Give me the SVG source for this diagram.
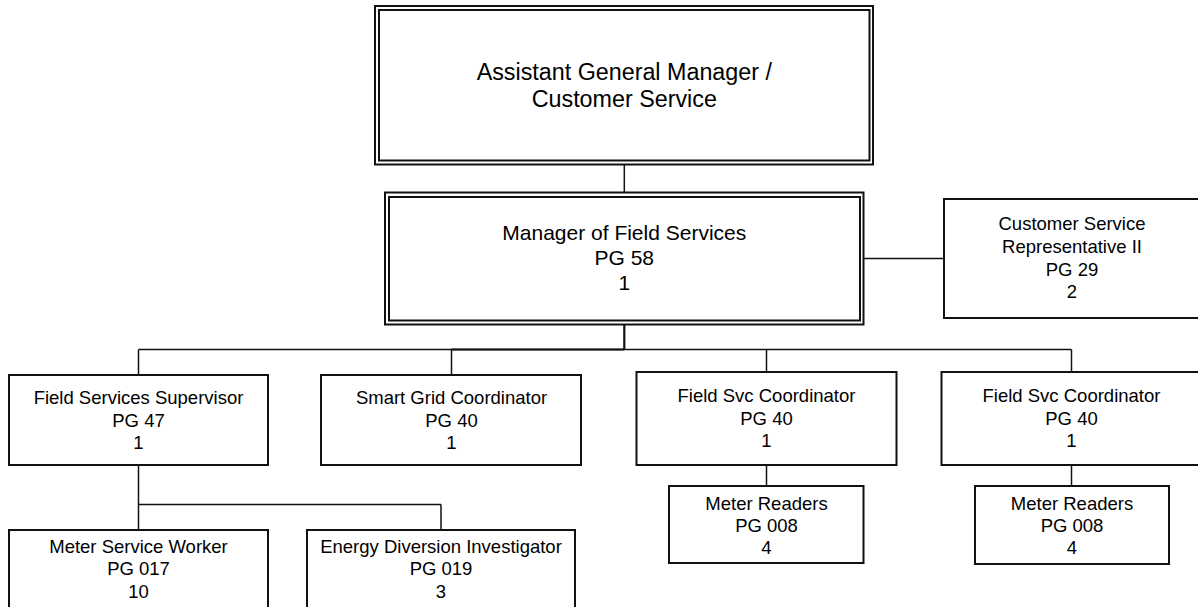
<svg xmlns="http://www.w3.org/2000/svg" width="1198" height="607" viewBox="0 0 1198 607">
  <style>
    .box { fill: #ffffff; stroke: #111111; stroke-width: 2; }
    .wire { fill: none; stroke: #111111; stroke-width: 1.5; }
    .wire-heavy { fill: none; stroke: #111111; stroke-width: 2.2; }
    text { font-family: "Liberation Sans", Arial, sans-serif; fill: #000000; text-anchor: middle; }
    .t-lg { font-size: 23.3px; }
    .t-md { font-size: 21px; }
    .t-sm { font-size: 18.5px; }
  </style>

  <!-- reporting lines -->
  <g id="connectors">
    <line class="wire" x1="624.3" y1="165" x2="624.3" y2="192"/>
    <line class="wire" x1="864" y1="258.5" x2="944" y2="258.5"/>
    <line class="wire-heavy" x1="624.3" y1="325" x2="624.3" y2="349.5"/>
    <line class="wire" x1="138.5" y1="349.5" x2="1071.5" y2="349.5"/>
    <line class="wire-heavy" x1="451.5" y1="349.5" x2="624.3" y2="349.5"/>
    <line class="wire" x1="138.5" y1="349.5" x2="138.5" y2="375"/>
    <line class="wire" x1="451.5" y1="349.5" x2="451.5" y2="375"/>
    <line class="wire" x1="766.5" y1="349.5" x2="766.5" y2="372"/>
    <line class="wire" x1="1071.5" y1="349.5" x2="1071.5" y2="372"/>
    <line class="wire" x1="138.5" y1="465" x2="138.5" y2="530"/>
    <line class="wire" x1="138.5" y1="504.5" x2="441" y2="504.5"/>
    <line class="wire" x1="441" y1="504.5" x2="441" y2="530"/>
    <line class="wire" x1="766.5" y1="465" x2="766.5" y2="486"/>
    <line class="wire" x1="1071.5" y1="465" x2="1071.5" y2="486"/>
  </g>

  <g id="agm">
    <rect class="box" x="375" y="6" width="498" height="158.5"/>
    <rect class="box" x="379" y="10" width="490.5" height="150.5"/>
    <text class="t-lg" x="624.3" y="79.5">Assistant General Manager /</text>
    <text class="t-lg" x="624.3" y="107">Customer Service</text>
  </g>

  <g id="manager-field-services">
    <rect class="box" x="385" y="192.5" width="478.5" height="132"/>
    <rect class="box" x="389" y="197" width="471" height="123.5"/>
    <text class="t-md" x="624.3" y="240">Manager of Field Services</text>
    <text class="t-md" x="624.3" y="265">PG 58</text>
    <text class="t-md" x="624.3" y="290">1</text>
  </g>

  <g id="csr-ii">
    <rect class="box" x="944" y="199" width="260" height="119"/>
    <text class="t-sm" x="1072" y="230">Customer Service</text>
    <text class="t-sm" x="1072" y="253">Representative II</text>
    <text class="t-sm" x="1072" y="276">PG 29</text>
    <text class="t-sm" x="1072" y="298">2</text>
  </g>

  <g id="field-services-supervisor">
    <rect class="box" x="9" y="375" width="259" height="90"/>
    <text class="t-sm" x="138.5" y="404">Field Services Supervisor</text>
    <text class="t-sm" x="138.5" y="426.5">PG 47</text>
    <text class="t-sm" x="138.5" y="448.5">1</text>
  </g>

  <g id="smart-grid-coordinator">
    <rect class="box" x="321" y="375" width="260" height="90"/>
    <text class="t-sm" x="451.5" y="404">Smart Grid Coordinator</text>
    <text class="t-sm" x="451.5" y="426.5">PG 40</text>
    <text class="t-sm" x="451.5" y="448.5">1</text>
  </g>

  <g id="field-svc-coordinator-a">
    <rect class="box" x="636.5" y="372" width="260" height="93"/>
    <text class="t-sm" x="766.5" y="402">Field Svc Coordinator</text>
    <text class="t-sm" x="766.5" y="424.5">PG 40</text>
    <text class="t-sm" x="766.5" y="446.5">1</text>
  </g>

  <g id="field-svc-coordinator-b">
    <rect class="box" x="941.5" y="372" width="262" height="93"/>
    <text class="t-sm" x="1071.5" y="402">Field Svc Coordinator</text>
    <text class="t-sm" x="1071.5" y="424.5">PG 40</text>
    <text class="t-sm" x="1071.5" y="446.5">1</text>
  </g>

  <g id="meter-readers-a">
    <rect class="box" x="669" y="486" width="194.5" height="77"/>
    <text class="t-sm" x="766.5" y="509.5">Meter Readers</text>
    <text class="t-sm" x="766.5" y="531.5">PG 008</text>
    <text class="t-sm" x="766.5" y="553.5">4</text>
  </g>

  <g id="meter-readers-b">
    <rect class="box" x="975" y="486" width="194" height="78"/>
    <text class="t-sm" x="1072" y="509.5">Meter Readers</text>
    <text class="t-sm" x="1072" y="531.5">PG 008</text>
    <text class="t-sm" x="1072" y="553.5">4</text>
  </g>

  <g id="meter-service-worker">
    <rect class="box" x="9" y="530" width="259" height="90"/>
    <text class="t-sm" x="138.5" y="553">Meter Service Worker</text>
    <text class="t-sm" x="138.5" y="575">PG 017</text>
    <text class="t-sm" x="138.5" y="597.5">10</text>
  </g>

  <g id="energy-diversion-investigator">
    <rect class="box" x="307" y="530" width="268" height="90"/>
    <text class="t-sm" x="441" y="553">Energy Diversion Investigator</text>
    <text class="t-sm" x="441" y="575">PG 019</text>
    <text class="t-sm" x="441" y="597.5">3</text>
  </g>
</svg>
